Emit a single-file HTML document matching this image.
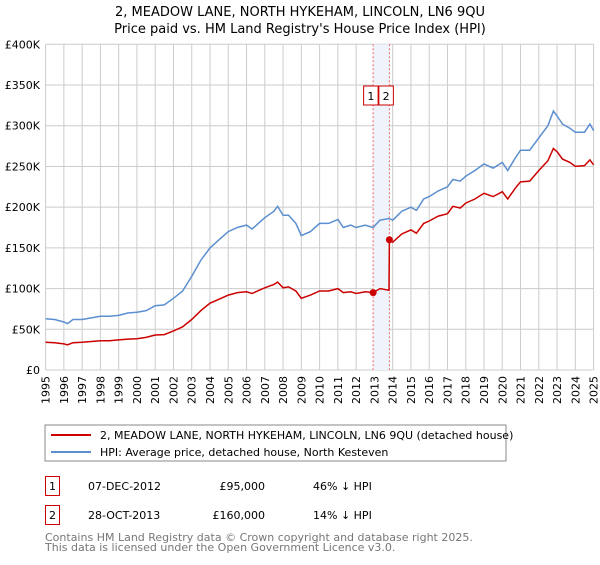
<!DOCTYPE html>
<html><head><meta charset="utf-8"><style>
body{margin:0;background:#fff;font-family:"Liberation Sans","DejaVu Sans",sans-serif;}
svg text{font-family:"DejaVu Sans","Liberation Sans",sans-serif;}
</style></head><body>
<svg width="600" height="560" viewBox="0 0 600 560" xmlns="http://www.w3.org/2000/svg">
<text x="300" y="16" text-anchor="middle" font-size="13">2, MEADOW LANE, NORTH HYKEHAM, LINCOLN, LN6 9QU</text>
<text x="300" y="33" text-anchor="middle" font-size="13">Price paid vs. HM Land Registry's House Price Index (HPI)</text>
<g id="grid"></g>
<g id="marks"></g>
<g id="axes"></g>
<rect x="45" y="425" width="461" height="36" fill="#fff" stroke="#888"/>
<line x1="51" y1="435" x2="91" y2="435" stroke="#cc0000" stroke-width="2"/>
<text x="100" y="439" font-size="11">2, MEADOW LANE, NORTH HYKEHAM, LINCOLN, LN6 9QU (detached house)</text>
<line x1="51" y1="452" x2="91" y2="452" stroke="#5b8fd0" stroke-width="2"/>
<text x="100" y="456" font-size="11">HPI: Average price, detached house, North Kesteven</text>
<g>
<rect x="45.5" y="476.5" width="14" height="19" fill="#fff" stroke="#cc0000"/>
<text x="52.5" y="490" text-anchor="middle" font-size="11">1</text>
<text x="88" y="490" font-size="11">07-DEC-2012</text>
<text x="265" y="490" text-anchor="end" font-size="11">£95,000</text>
<text x="313" y="490" font-size="11">46% ↓ HPI</text></g>
<g>
<rect x="45.5" y="505.5" width="14" height="19" fill="#fff" stroke="#cc0000"/>
<text x="52.5" y="519" text-anchor="middle" font-size="11">2</text>
<text x="88" y="519" font-size="11">28-OCT-2013</text>
<text x="265" y="519" text-anchor="end" font-size="11">£160,000</text>
<text x="313" y="519" font-size="11">14% ↓ HPI</text></g>
<text x="45" y="541" font-size="11" fill="#777">Contains HM Land Registry data © Crown copyright and database right 2025.</text>
<text x="45" y="551" font-size="11" fill="#777">This data is licensed under the Open Government Licence v3.0.</text>
</svg>
<script>
const hpiDates=[1995,1995.5,1996,1996.2,1996.5,1997,1997.5,1998,1998.5,1999,1999.5,2000,2000.5,2001,2001.5,2002,2002.5,2003,2003.5,2004,2004.5,2005,2005.5,2006,2006.3,2006.7,2007,2007.5,2007.7,2008,2008.3,2008.7,2009,2009.5,2010,2010.5,2011,2011.3,2011.7,2012,2012.5,2012.93,2013.3,2013.8,2014,2014.5,2015,2015.3,2015.7,2016,2016.5,2017,2017.3,2017.7,2018,2018.5,2019,2019.5,2020,2020.3,2020.7,2021,2021.5,2022,2022.5,2022.8,2023,2023.3,2023.7,2024,2024.5,2024.8,2025];
const hpiValues=[63,62,59,57,62,62,64,66,66,67,70,71,73,79,80,88,97,115,135,150,160,170,175,178,173,181,187,195,201,190,190,180,165,170,180,180,185,175,178,175,178,175,184,186,184,195,200,196,210,213,220,225,234,232,238,245,253,248,255,245,260,270,270,285,300,318,312,302,297,292,292,302,294];
const priceDates=[1995,1995.5,1996,1996.2,1996.5,1997,1997.5,1998,1998.5,1999,1999.5,2000,2000.5,2001,2001.5,2002,2002.5,2003,2003.5,2004,2004.5,2005,2005.5,2006,2006.3,2006.7,2007,2007.5,2007.7,2008,2008.3,2008.7,2009,2009.5,2010,2010.5,2011,2011.3,2011.7,2012,2012.5,2012.93,2013.3,2013.8,2013.82,2014,2014.5,2015,2015.3,2015.7,2016,2016.5,2017,2017.3,2017.7,2018,2018.5,2019,2019.5,2020,2020.3,2020.7,2021,2021.5,2022,2022.5,2022.8,2023,2023.3,2023.7,2024,2024.5,2024.8,2025];
const priceValues=[34,33.5,32,31,33.5,34,35,36,36,37,38,38.5,40,43,43.5,48,53,62,73,82,87,92,95,96,94,98,101,105,108,101,102,97,88,92,97,97,100,95,96,94,96,95,100,98,160,157,167,172,168,180,183,189,192,201,199,205,210,217,213,219,210,223,231,232,245,257,272,268,259,255,250,251,258,252];
const saleDates=[2012.93,2013.82];
const saleValues=[95,160];
const yTicks=[0,50,100,150,200,250,300,350,400];
const yTickLabels=["£0","£50K","£100K","£150K","£200K","£250K","£300K","£350K","£400K"];
const xTicks=[1995,1996,1997,1998,1999,2000,2001,2002,2003,2004,2005,2006,2007,2008,2009,2010,2011,2012,2013,2014,2015,2016,2017,2018,2019,2020,2021,2022,2023,2024,2025];

const X0=45.6,X1=593.6,Y0=370,Y1=44.3;
const xs=d=>X0+(d-1995)/30*(X1-X0);
const ys=v=>Y0-v/400*(Y0-Y1);
const NS="http://www.w3.org/2000/svg";
function mk(tag,attrs,parent){const e=document.createElementNS(NS,tag);for(const k in attrs)e.setAttribute(k,attrs[k]);parent.appendChild(e);return e;}
const grid=document.getElementById('grid'),marks=document.getElementById('marks'),axes=document.getElementById('axes');
xTicks.forEach(t=>{const l=mk('line',{x1:xs(t),x2:xs(t),y1:Y1,y2:Y0,stroke:'#cccccc','stroke-width':1},grid);


const tx=mk('text',{x:0,y:0,'font-size':11,'text-anchor':'end',transform:`translate(${xs(t)+4},${Y0+6}) rotate(-90)`},axes);
tx.textContent=t;

});
yTicks.forEach((t,i)=>{const l=mk('line',{x1:X0,x2:X1,y1:ys(t),y2:ys(t),stroke:'#cccccc','stroke-width':1},grid);


const tx=mk('text',{x:40,y:ys(t)+4,'font-size':11,'text-anchor':'end'},axes);
tx.textContent=yTickLabels[i];

});
// shaded band between sales
const band=mk('rect',{x:xs(saleDates[0]),y:Y1,width:xs(saleDates[1])-xs(saleDates[0]),height:Y0-Y1,fill:'#eef3fc'},grid);


saleDates.forEach((d,i)=>{const l=mk('line',{x1:xs(d),x2:xs(d),y1:Y1,y2:Y0,stroke:'#ee6666','stroke-dasharray':'2,2','stroke-width':1},grid);


const bx=i==0?xs(d)-9.5:xs(d)-10.5;
const g=mk('g',{},marks);


mk('rect',{x:bx,y:86,width:14.5,height:19,fill:'#fff',stroke:'#cc0000'},g);
const t=mk('text',{x:bx+7.2,y:100,'font-size':11,'text-anchor':'middle'},g);t.textContent=i+1;});
const pts=(D,V)=>D.map((d,i)=>xs(d).toFixed(1)+','+ys(V[i]).toFixed(1)).join(' ');
const h=mk('polyline',{points:pts(hpiDates,hpiValues),fill:'none',stroke:'#5b8fd0','stroke-width':1.5},marks);


const p=mk('polyline',{points:pts(priceDates,priceValues),fill:'none',stroke:'#cc0000','stroke-width':1.5},marks);


saleDates.forEach((d,i)=>{const c=mk('circle',{cx:xs(d),cy:ys(saleValues[i]),r:3.5,fill:'#cc0000'},marks);

});
</script>
</body></html>
